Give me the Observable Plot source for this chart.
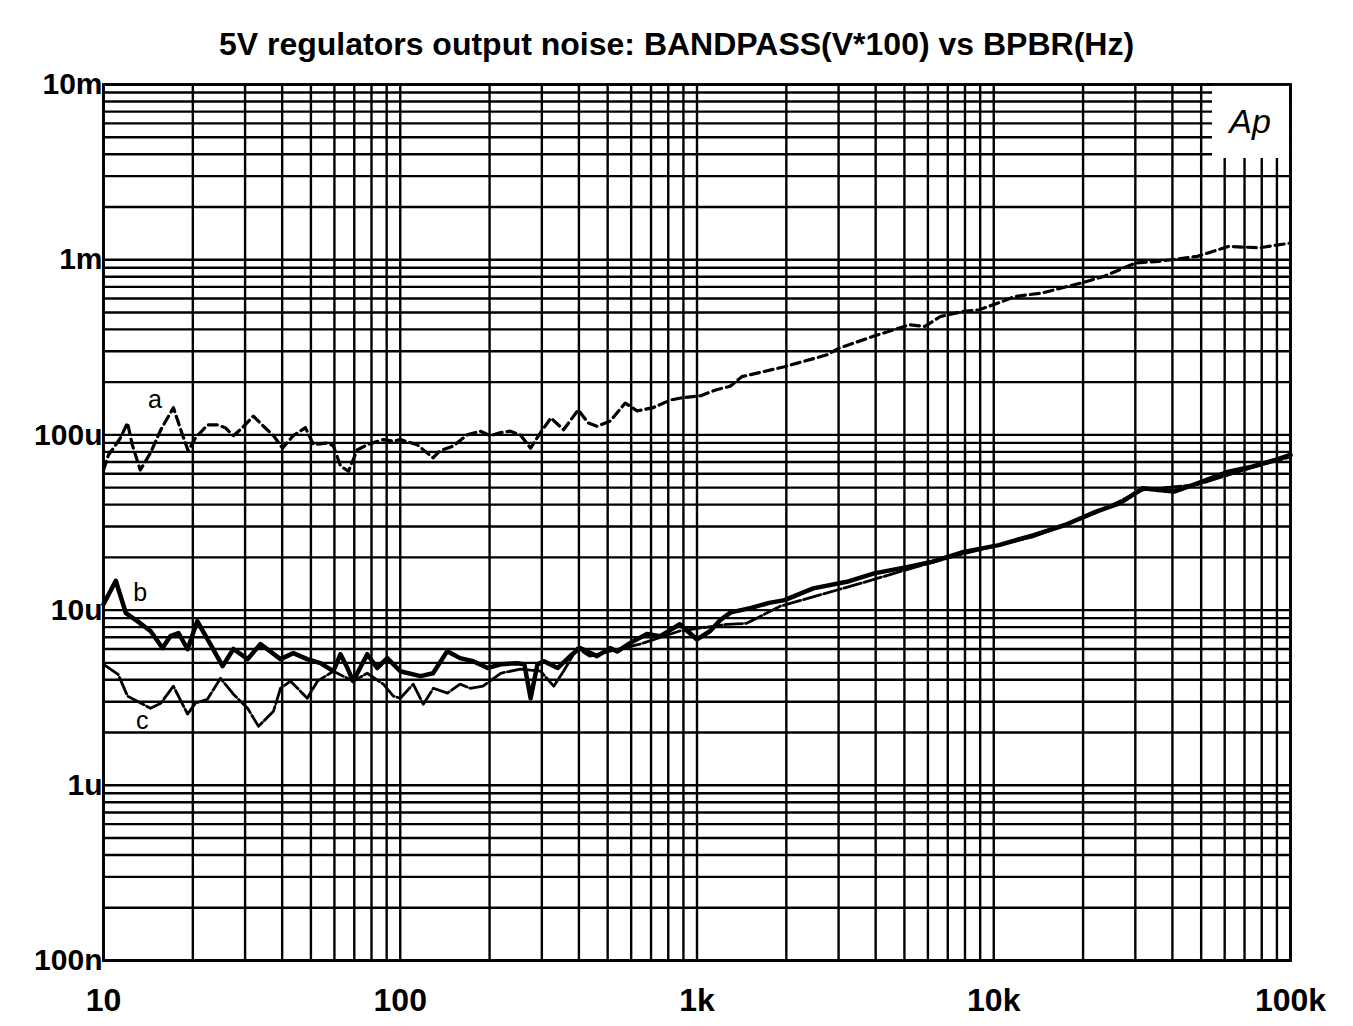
<!DOCTYPE html>
<html>
<head>
<meta charset="utf-8">
<script src="https://cdn.jsdelivr.net/npm/d3@7"></script>
<script src="https://cdn.jsdelivr.net/npm/@observablehq/plot@0.6"></script>
<style>
  html, body { margin: 0; padding: 0; background: white; }
  #title { height: 43px; padding-top: 27px; line-height: 35px; text-align: center;
           font-family: "Liberation Sans", Arial, sans-serif; font-weight: bold; font-size: 32px; color: #000; }
  #chart svg { display: block; overflow: visible; }
</style>
</head>
<body>
<div id="title">5V regulators output noise: BANDPASS(V*100) vs BPBR(Hz)</div>
<div id="chart"></div>
<script>
// ---- Data (frequency in Hz, level in µV) ----
const freqA = [10, 10.4, 10.8, 11.4, 12.05, 12.5, 13.3, 14.4, 15.6, 17.2, 17.9, 18.5, 19.3, 20.4, 22.4, 24.2, 25.7, 27.4, 28.9, 32.0, 34.6, 37.4, 40.1, 43.6, 47.9, 51.0, 56.9, 59.5, 62.9, 66.9, 71.6, 77.4, 87.7, 94.8, 100, 114, 129, 136, 151, 168, 186, 201, 218, 235, 254, 275, 297, 322, 355, 398, 430, 461, 510, 573, 628, 711, 813, 891, 1025, 1163, 1298, 1416, 1972, 2754, 3013, 4074, 5190, 5860, 6607, 7925, 8940, 10720, 11740, 14500, 19630, 23500, 29950, 35900, 48550, 61800, 78700, 100000];
const valA  = [63, 77, 84, 96, 117, 88, 63, 79, 107, 143, 117, 99, 81, 96, 114, 114, 110, 99, 107, 128, 112, 99, 84, 99, 110, 88, 90, 86.5, 66.5, 62, 82, 88, 94, 92, 94, 88, 74, 81, 86.5, 100, 105, 99, 103, 105, 100, 84, 103, 125, 107, 139, 117, 112, 120, 152, 137, 143, 158, 163, 167, 181, 190, 215, 245, 287, 313, 373, 425, 416, 474, 507, 518, 578, 616, 645, 735, 803, 957, 978, 1045, 1190, 1170, 1245];

const freqB = [10, 11.0, 11.9, 13.0, 14.4, 15.8, 16.8, 17.9, 19.2, 20.7, 22.9, 25.2, 27.4, 30.6, 33.8, 39.5, 43.6, 48.6, 53.8, 59.5, 62.9, 66.4, 69.4, 77.4, 83.6, 90.4, 100, 117, 129, 144, 159, 176, 197, 218, 248, 262, 275, 290, 305, 339, 380, 404, 460, 510, 538, 594, 678, 752, 875, 1000, 1108, 1200, 1300, 1523, 1750, 1972, 2464, 3200, 3953, 5190, 6220, 7925, 10400, 13650, 17380, 22140, 26540, 31830, 35900, 40520, 48550, 61800, 74130, 88870, 100000];
const valB  = [10.8, 14.7, 9.6, 8.65, 7.6, 6.07, 7.1, 7.4, 5.98, 8.65, 6.4, 4.79, 6.0, 5.25, 6.4, 5.25, 5.68, 5.25, 4.98, 4.48, 5.6, 4.67, 3.93, 5.6, 4.67, 5.32, 4.48, 4.2, 4.36, 5.83, 5.32, 5.11, 4.67, 4.91, 4.97, 4.9, 3.14, 4.9, 5.11, 4.67, 5.6, 6.07, 5.46, 6.07, 5.8, 6.48, 7.3, 7.1, 8.3, 6.8, 7.6, 8.8, 9.7, 10.3, 11.0, 11.4, 13.3, 14.5, 16.2, 17.7, 18.9, 21.5, 23.5, 26.8, 30.6, 36.5, 40.7, 49.6, 48.5, 47.5, 52.9, 61.7, 65.9, 72, 76.9];

const freqC = [10, 11.2, 12.05, 13.0, 14.4, 15.6, 17.2, 19.2, 20.4, 22.4, 24.8, 27.4, 30.6, 33.3, 37.4, 39.5, 42.7, 48.6, 52.6, 59.5, 69.4, 77.4, 87.7, 94.8, 100, 110.6, 119.6, 129.3, 144.3, 159, 172, 190, 218, 254, 297, 329, 355, 395, 435, 510, 643, 875, 1260, 1470, 1900, 3048, 3600, 5190, 7925, 13650, 22140, 31830, 48550, 74130, 100000];
const valC  = [4.9, 4.3, 3.23, 3.02, 2.75, 2.94, 3.68, 2.55, 2.94, 3.1, 4.08, 3.31, 2.75, 2.17, 2.65, 3.58, 3.93, 3.14, 3.93, 4.48, 3.93, 4.36, 3.78, 3.23, 3.14, 3.78, 2.9, 3.58, 3.36, 3.78, 3.58, 3.68, 4.36, 4.6, 4.48, 3.68, 4.48, 6.07, 5.46, 5.83, 6.4, 7.6, 8.3, 8.4, 10.5, 13.2, 14.3, 17.2, 21, 26.3, 36, 48.5, 52, 65, 75];

const seriesNames = ["a", "b", "c"];
const labelFreq = [14.9, 13.3, 13.5];
const labelVal  = [158, 12.5, 2.32];

const xTicks = [10, 100, 1000, 10000, 100000];
const xTickLabels = ["10", "100", "1k", "10k", "100k"];
const yTicks = [0.1, 1, 10, 100, 1000, 10000];
const yTickLabels = ["100n", "1u", "10u", "100u", "1m", "10m"];

// ---- Build tables ----
const toRows = (fs, vs) => fs.map((f, i) => ({f, v: vs[i]}));
const rowsA = toRows(freqA, valA);
const rowsB = toRows(freqB, valB);
const rowsC = toRows(freqC, valC);
const labels = seriesNames.map((s, i) => ({s, f: labelFreq[i], v: labelVal[i]}));

// Logo box in the upper-right corner of the frame
const apLogo = (index, scales, values, dimensions) => {
  const {width, marginRight, marginTop} = dimensions;
  const right = width - marginRight;
  const g = d3.create("svg:g");
  g.append("rect").attr("x", right - 78).attr("y", marginTop + 1)
    .attr("width", 77).attr("height", 73).attr("fill", "white");
  g.append("text").attr("x", right - 40).attr("y", marginTop + 37)
    .attr("text-anchor", "middle").attr("dominant-baseline", "central")
    .attr("font-family", "Liberation Sans, Arial, sans-serif")
    .attr("font-style", "italic").attr("font-size", 34).attr("fill", "black")
    .text("Ap");
  return g.node();
};

const chart = Plot.plot({
  width: 1353,
  height: 956,
  marginLeft: 103,
  marginRight: 63,
  marginTop: 14,
  marginBottom: 66,
  x: {type: "log", domain: [10, 100000]},
  y: {type: "log", domain: [0.1, 10000]},
  style: {fontFamily: "Liberation Sans, Arial, sans-serif", background: "white", color: "black", overflow: "visible"},
  marks: [
    Plot.gridX({stroke: "black", strokeOpacity: 1, strokeWidth: 2.4}),
    Plot.gridY({stroke: "black", strokeOpacity: 1, strokeWidth: 2.4}),
    apLogo,
    Plot.line(rowsA, {x: "f", y: "v", stroke: "black", strokeWidth: 3.2, strokeDasharray: "9,5"}),
    Plot.line(rowsC, {x: "f", y: "v", stroke: "black", strokeWidth: 2.8, strokeDasharray: "18,3"}),
    Plot.line(rowsB, {x: "f", y: "v", stroke: "black", strokeWidth: 4.5}),
    Plot.text(labels, {x: "f", y: "v", text: "s", fontSize: 25, fill: "black"}),
    Plot.frame({stroke: "black", strokeWidth: 2.8}),
    Plot.axisX({ticks: xTicks, tickFormat: d => xTickLabels[xTicks.indexOf(d)], tickSize: 0, tickPadding: 28,
                fontSize: 32, fontWeight: "bold", label: null}),
    Plot.axisY({ticks: yTicks, tickFormat: d => yTickLabels[yTicks.indexOf(d)], tickSize: 0, tickPadding: 1,
                fontSize: 30, fontWeight: "bold", label: null})
  ]
});
document.getElementById("chart").appendChild(chart);
</script>
</body>
</html>
